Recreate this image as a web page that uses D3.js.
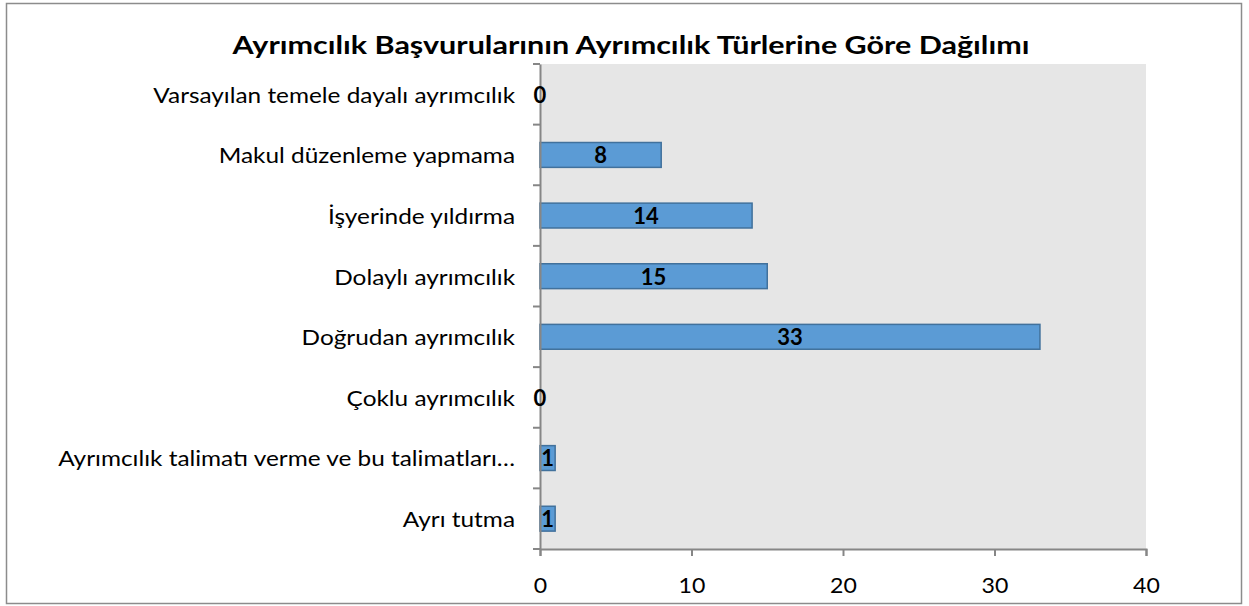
<!DOCTYPE html>
<html>
<head>
<meta charset="utf-8">
<script src="https://cdn.jsdelivr.net/npm/d3@7"></script>
<style>
  body { margin: 0; background: #fff; }
  text { font-family: Lato, "Open Sans", sans-serif; }
</style>
</head>
<body>
<script>
var width = 1249, height = 606;

// kategoriler (yukaridan asagiya)
var kategoriler = [
  "Varsayılan temele dayalı ayrımcılık",
  "Makul düzenleme yapmama",
  "İşyerinde yıldırma",
  "Dolaylı ayrımcılık",
  "Doğrudan ayrımcılık",
  "Çoklu ayrımcılık",
  "Ayrımcılık talimatı verme ve bu talimatları…",
  "Ayrı tutma"
];
var degerler = [0, 8, 14, 15, 33, 0, 1, 1];
var xTicks = [0, 10, 20, 30, 40];
var baslik = "Ayrımcılık Başvurularının Ayrımcılık Türlerine Göre Dağılımı";

var veri = kategoriler.map(function(k, i) { return {kat: k, val: degerler[i]}; });

var svg = d3.select("body").append("svg")
  .attr("width", width).attr("height", height);

// dis cerceve
svg.append("rect")
  .attr("x", 6.5).attr("y", 3.5)
  .attr("width", 1235).attr("height", 600)
  .attr("fill", "#fff").attr("stroke", "#8c8c8c").attr("stroke-width", 1.5);

var pLeft = 540, pRight = 1146, pTop = 64, pBottom = 549;

var x = d3.scaleLinear().domain([0, 40]).range([pLeft, pRight]);
var y = d3.scaleBand().domain(kategoriler).range([pTop, pBottom]).paddingInner(0.59).paddingOuter(0.295);
var yb = d3.scaleBand().domain(kategoriler).range([pTop, pBottom]);

// yazilari biraz genislet (orijinal yazi tipi daha genis gorunuyor)
function genislet(sel, oran) {
  sel.each(function() {
    var w = this.getComputedTextLength();
    d3.select(this).attr("textLength", w * oran).attr("lengthAdjust", "spacingAndGlyphs");
  });
}

// gri alan
svg.append("rect")
  .attr("x", pLeft).attr("y", pTop)
  .attr("width", pRight - pLeft).attr("height", pBottom - pTop)
  .attr("fill", "#e6e6e6");

// baslik
svg.append("text")
  .attr("x", 631).attr("y", 54)
  .attr("text-anchor", "middle")
  .style("font-size", "24px").style("font-weight", "bold")
  .attr("textLength", 797).attr("lengthAdjust", "spacingAndGlyphs")
  .text(baslik);

// cubuklar
svg.selectAll("rect.bar")
  .data(veri)
  .enter()
  .append("rect")
  .attr("class", "bar")
  .attr("x", x(0))
  .attr("y", function(d) { return y(d.kat); })
  .attr("width", function(d) { return x(d.val) - x(0); })
  .attr("height", y.bandwidth())
  .attr("fill", "#5b9bd5")
  .attr("stroke", "#41719c")
  .attr("stroke-width", 1.5);

// x ekseni
var xAxis = svg.append("g")
  .attr("transform", "translate(0," + pBottom + ")")
  .call(d3.axisBottom(x).tickValues(xTicks).tickSize(7).tickPadding(22));
xAxis.select(".domain").attr("stroke", "#868686").attr("stroke-width", 2);
xAxis.selectAll(".tick line").attr("stroke", "#868686").attr("stroke-width", 2);
xAxis.selectAll(".tick text").style("font-size", "21px").attr("fill", "#000")
  .style("font-family", "Lato, 'Open Sans', sans-serif");
genislet(xAxis.selectAll(".tick text"), 1.1);

// y ekseni
var yAxis = svg.append("g")
  .attr("transform", "translate(" + pLeft + ",0)")
  .call(d3.axisLeft(yb).tickSize(0).tickPadding(25));
yAxis.select(".domain").attr("stroke", "#868686").attr("stroke-width", 2);
yAxis.selectAll(".tick text").style("font-size", "21px").attr("fill", "#000")
  .attr("dy", "0.4em")
  .style("font-family", "Lato, 'Open Sans', sans-serif");
genislet(yAxis.selectAll(".tick text"), 1.16);

// y ekseni tik cizgileri (kategori sinirlari)
var sinirlar = kategoriler.map(function(k) { return yb(k); }).concat([pBottom]);
svg.selectAll("line.ytick")
  .data(sinirlar)
  .enter()
  .append("line")
  .attr("class", "ytick")
  .attr("x1", pLeft - 7).attr("x2", pLeft)
  .attr("y1", function(d) { return d; })
  .attr("y2", function(d) { return d; })
  .attr("stroke", "#868686").attr("stroke-width", 2);

// deger etiketleri
svg.selectAll("text.lbl")
  .data(veri)
  .enter()
  .append("text")
  .attr("class", "lbl")
  .attr("x", function(d) { return (x(0) + x(d.val)) / 2; })
  .attr("y", function(d) { return y(d.kat) + y.bandwidth() / 2; })
  .attr("dy", "0.38em")
  .attr("text-anchor", "middle")
  .style("font-size", "22px").style("font-weight", "bold")
  .text(function(d) { return d.val; });
</script>
</body>
</html>
